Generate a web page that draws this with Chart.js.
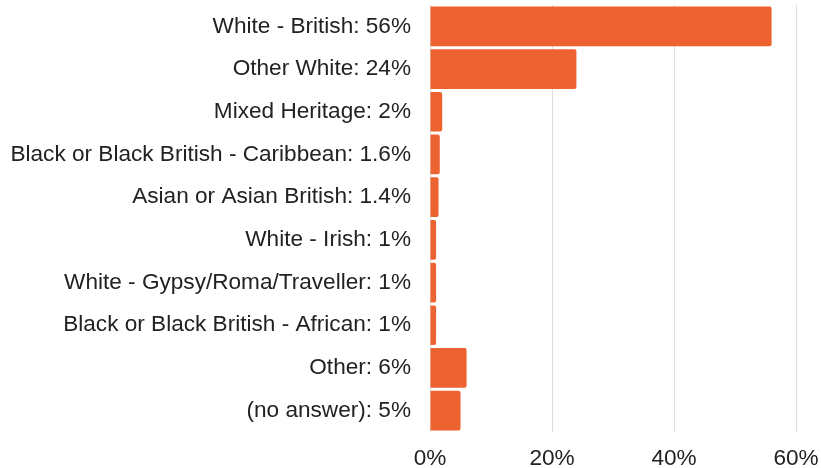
<!DOCTYPE html>
<html>
<head>
<meta charset="utf-8">
<script src="https://cdn.jsdelivr.net/npm/chart.js@4/dist/chart.umd.min.js"></script>
<style>
  html, body { margin: 0; padding: 0; background: #fff; }
  #chart { display: block; }
</style>
</head>
<body>
<canvas id="chart" width="821" height="468"></canvas>
<script>
// categories and shares (%)
const categories = [
    "White - British",
    "Other White",
    "Mixed Heritage",
    "Black or Black British - Caribbean",
    "Asian or Asian British",
    "White - Irish",
    "White - Gypsy/Roma/Traveller",
    "Black or Black British - African",
    "Other",
    "(no answer)"
];
const shares = [56, 24, 2, 1.6, 1.4, 1, 1, 1, 6, 5];
const xTicks = [0, 20, 40, 60];

const labels = categories.map((c, i) => c + ": " + shares[i] + "%");

const labelFont = { family: "'Liberation Sans', Arial, sans-serif", size: 22.6 };

const ctx = document.getElementById("chart").getContext("2d");

new Chart(ctx, {
    type: "bar",
    data: {
        labels: labels,
        datasets: [{
            data: shares,
            backgroundColor: "#ec6331",
            borderRadius: 2,
            borderSkipped: "start",
            barPercentage: 0.93,
            categoryPercentage: 1
        }]
    },
    options: {
        indexAxis: "y",
        responsive: false,
        animation: false,
        layout: { padding: { top: 5, right: 25, left: 0, bottom: 0 } },
        plugins: {
            legend: { display: false },
            tooltip: { enabled: false }
        },
        scales: {
            x: {
                min: 0,
                max: 60,
                afterBuildTicks: axis => {
                    axis.ticks = xTicks.map(v => ({ value: v }));
                },
                afterFit: axis => {
                    axis.height = 36;
                    axis.paddingLeft = 0;
                    axis.paddingRight = 0;
                },
                grid: { color: "#dddddd", drawTicks: false },
                border: { display: false },
                ticks: {
                    padding: 13,
                    color: "#222",
                    font: labelFont,
                    callback: v => v + "%"
                }
            },
            y: {
                afterFit: axis => {
                    axis.width = 430;
                    axis.paddingTop = 0;
                    axis.paddingBottom = 0;
                },
                grid: { display: false, drawTicks: false },
                border: { display: false },
                ticks: {
                    padding: 19,
                    color: "#222",
                    font: labelFont
                }
            }
        }
    }
});
</script>
</body>
</html>
